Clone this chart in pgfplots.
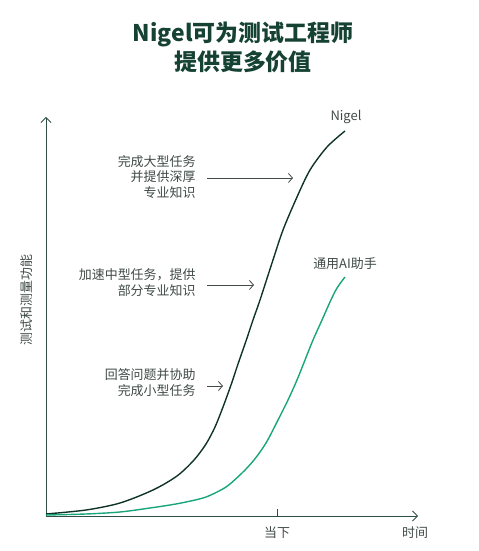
\documentclass[border=0pt]{standalone}
\usepackage{fontspec}
\setmainfont{Noto Sans CJK SC}
\usepackage{pgfplots}
\pgfplotsset{compat=1.18}
\usetikzlibrary{arrows.meta}

\definecolor{titlegreen}{HTML}{154232}
\definecolor{darkline}{HTML}{0F3327}
\definecolor{aigreen}{HTML}{18A57A}
\definecolor{axisgray}{HTML}{2F4F44}
\definecolor{txtgray}{HTML}{3F4A45}

\begin{document}
\begin{tikzpicture}[x=1bp,y=1bp]
\path[use as bounding box] (-46,-35) rectangle (433,516);

\begin{axis}[
    at={(0,0)}, anchor=south west,
    scale only axis,
    width=372bp, height=399bp,
    xmin=0, xmax=372, ymin=0, ymax=399,
    axis lines=left,
    axis line style={axisgray, line width=0.8pt},
    every outer x axis line/.append style={-{Straight Barb[length=5bp,width=10bp]}},
    every outer y axis line/.append style={-{Straight Barb[length=5bp,width=10bp]}},
    xtick=\empty, ytick=\empty,
    clip=false,
]
% Nigel
\addplot[darkline, line width=1.4pt, smooth] coordinates {
  (0,2) (40,6) (74,13) (107,26) (131,40) (148,56) (160,72) (169,89)
  (177,109) (185,131) (192,152) (200,175) (207,196) (214,216)
  (226,253) (237,286) (251,319) (264,346) (281,369) (299,385)
};
% AI helper
\addplot[aigreen, line width=1.4pt, smooth] coordinates {
  (0,1) (40,2) (74,4) (104,8) (124,11) (140,14) (160,19) (180,29)
  (196,43) (208,56) (220,73) (232,96) (242,116) (251,136) (259,156)
  (267,176) (276,196) (284,214) (291,228) (299,239)
};
\end{axis}

% current-time tick
\draw[axisgray, line width=0.8pt] (231,0) -- (231,7);
\node[txtgray, font=\fontsize{13}{16}\selectfont] at (231,-17) {当下};
\node[txtgray, font=\fontsize{13}{16}\selectfont] at (369,-17) {时间};
\node[txtgray, font=\fontsize{13}{16}\selectfont, rotate=90] at (-19,216) {测试和测量功能};

% title
\node[titlegreen, font=\fontsize{23}{29}\selectfont\bfseries, align=center] at (197,469) {Nigel可为测试工程师\\提供更多价值};

% series labels
\node[txtgray, font=\fontsize{13}{16}\selectfont] at (300,399) {Nigel};
\node[txtgray, font=\fontsize{13}{16}\selectfont] at (299,252) {通用AI助手};

% annotations
\node[txtgray, font=\fontsize{13}{16}\selectfont, align=right, anchor=east] at (153,339) {完成大型任务\\并提供深厚\\专业知识};
\draw[txtgray, line width=0.8pt, -{Straight Barb[length=4bp,width=9bp]}] (161,338) -- (247,338);

\node[txtgray, font=\fontsize{13}{16}\selectfont, align=right, anchor=east] at (153,233) {加速中型任务，提供\\部分专业知识};
\draw[txtgray, line width=0.8pt, -{Straight Barb[length=4bp,width=9bp]}] (161,231) -- (208,231);

\node[txtgray, font=\fontsize{13}{16}\selectfont, align=right, anchor=east] at (153,133) {回答问题并协助\\完成小型任务};
\draw[txtgray, line width=0.8pt, -{Straight Barb[length=4bp,width=9bp]}] (161,130) -- (177,130);
\end{tikzpicture}
\end{document}
